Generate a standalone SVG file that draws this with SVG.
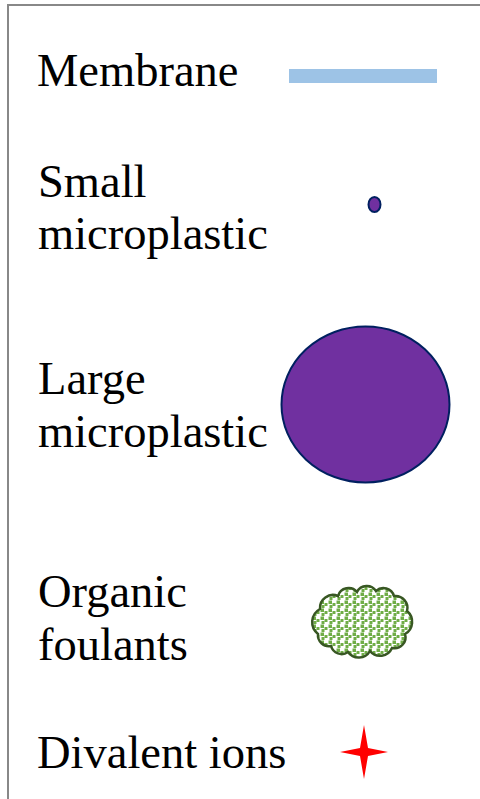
<svg xmlns="http://www.w3.org/2000/svg" width="480" height="799" viewBox="0 0 480 799">
<style>
.lbl{font-family:"Liberation Serif","Times New Roman",serif;font-size:46.5px;fill:#000}
</style>
<defs>
<pattern id="dots" width="8" height="8" patternUnits="userSpaceOnUse">
<rect width="8" height="8" fill="#fff"/>
<rect x="0.5" y="0.5" width="3.5" height="3.5" fill="#70AD47"/>
<rect x="4.5" y="3" width="3" height="3" fill="#70AD47"/>
<rect x="1.5" y="5" width="3" height="3" fill="#70AD47"/>
</pattern>
</defs>
<rect width="480" height="799" fill="#fff"/>
<path d="M8,799 V5 H480" fill="none" stroke="#888" stroke-width="2"/>
<g id="membrane">
<text class="lbl" x="37" y="86">Membrane</text>
<rect x="289" y="69" width="148" height="14" fill="#9DC3E6"/>
</g>
<g id="small-microplastic">
<text class="lbl" x="38" y="197">Small</text>
<text class="lbl" x="38" y="249">microplastic</text>
<ellipse cx="374.5" cy="204.5" rx="6" ry="7.5" fill="#7030A0" stroke="#002060" stroke-width="2"/>
</g>
<g id="large-microplastic">
<text class="lbl" x="38" y="394">Large</text>
<text class="lbl" x="38" y="447">microplastic</text>
<ellipse cx="365.5" cy="404.5" rx="84" ry="78" fill="#7030A0" stroke="#002060" stroke-width="2"/>
</g>
<g id="organic-foulants">
<text class="lbl" x="38" y="607">Organic</text>
<text class="lbl" x="38" y="660">foulants</text>
<path d="M318,634 A15,15 0 0 1 320,609 A13,13 0 0 1 338,596 A11,11 0 0 1 357,592 A11,11 0 0 1 376,591 A11,11 0 0 1 394,596 A12,12 0 0 1 407,611 A14,14 0 0 1 405,634 A11,11 0 0 1 392,648 A13,13 0 0 1 370,651 A13,13 0 0 1 348,652 A11,11 0 0 1 331,646 A11,11 0 0 1 318,634 Z" fill="url(#dots)" stroke="#385723" stroke-width="2.5"/>
</g>
<g id="divalent-ions">
<text class="lbl" x="37" y="768">Divalent ions</text>
<path d="M364,725 L368,748 L388,752 L368,756 L364,779 L360,756 L340,752 L360,748 Z" fill="#FF0000"/>
</g>
</svg>
